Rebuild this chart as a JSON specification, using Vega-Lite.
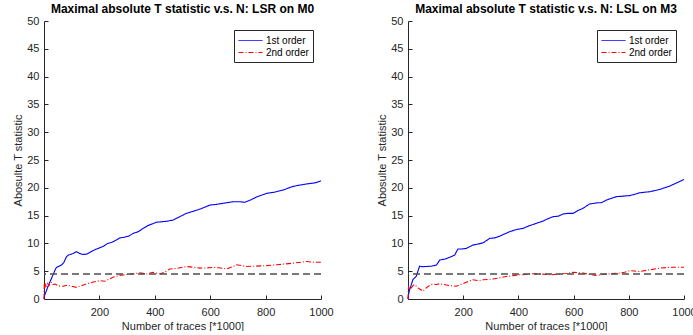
{
  "$schema": "https://vega.github.io/schema/vega-lite/v6.json",
  "background": "white",
  "padding": {"left": 12, "top": 3, "right": 0, "bottom": 0},
  "spacing": 42,
  "datasets": {
    "L": [
      {"x":0,"y":0,"s":"1st order"},{"x":3,"y":0.8,"s":"1st order"},{"x":8,"y":1.4,"s":"1st order"},{"x":14,"y":2.2,"s":"1st order"},{"x":20,"y":2.9,"s":"1st order"},{"x":27,"y":3.7,"s":"1st order"},{"x":33,"y":4.4,"s":"1st order"},{"x":40,"y":5.2,"s":"1st order"},{"x":45,"y":5.7,"s":"1st order"},{"x":55,"y":5.9,"s":"1st order"},{"x":63,"y":6.1,"s":"1st order"},{"x":72,"y":6.6,"s":"1st order"},{"x":81,"y":7.6,"s":"1st order"},{"x":88,"y":7.9,"s":"1st order"},{"x":95,"y":8.0,"s":"1st order"},{"x":105,"y":8.2,"s":"1st order"},{"x":117,"y":8.5,"s":"1st order"},{"x":128,"y":8.2,"s":"1st order"},{"x":141,"y":8.0,"s":"1st order"},{"x":155,"y":8.1,"s":"1st order"},{"x":170,"y":8.5,"s":"1st order"},{"x":185,"y":8.9,"s":"1st order"},{"x":201,"y":9.2,"s":"1st order"},{"x":215,"y":9.5,"s":"1st order"},{"x":230,"y":10.0,"s":"1st order"},{"x":245,"y":10.2,"s":"1st order"},{"x":261,"y":10.6,"s":"1st order"},{"x":275,"y":11.0,"s":"1st order"},{"x":290,"y":11.1,"s":"1st order"},{"x":305,"y":11.3,"s":"1st order"},{"x":322,"y":11.8,"s":"1st order"},{"x":340,"y":12.1,"s":"1st order"},{"x":358,"y":12.7,"s":"1st order"},{"x":375,"y":13.2,"s":"1st order"},{"x":390,"y":13.5,"s":"1st order"},{"x":406,"y":13.8,"s":"1st order"},{"x":425,"y":13.9,"s":"1st order"},{"x":445,"y":14.0,"s":"1st order"},{"x":466,"y":14.2,"s":"1st order"},{"x":490,"y":14.8,"s":"1st order"},{"x":514,"y":15.4,"s":"1st order"},{"x":540,"y":15.8,"s":"1st order"},{"x":565,"y":16.2,"s":"1st order"},{"x":599,"y":16.9,"s":"1st order"},{"x":620,"y":17.0,"s":"1st order"},{"x":645,"y":17.2,"s":"1st order"},{"x":683,"y":17.5,"s":"1st order"},{"x":705,"y":17.5,"s":"1st order"},{"x":725,"y":17.4,"s":"1st order"},{"x":745,"y":17.8,"s":"1st order"},{"x":770,"y":18.4,"s":"1st order"},{"x":804,"y":19.0,"s":"1st order"},{"x":830,"y":19.2,"s":"1st order"},{"x":864,"y":19.6,"s":"1st order"},{"x":895,"y":20.2,"s":"1st order"},{"x":924,"y":20.5,"s":"1st order"},{"x":950,"y":20.7,"s":"1st order"},{"x":980,"y":20.9,"s":"1st order"},{"x":1000,"y":21.25,"s":"1st order"},
      {"x":0,"y":0,"s":"2nd order"},{"x":1,"y":2.9,"s":"2nd order"},{"x":3,"y":2.0,"s":"2nd order"},{"x":6,"y":2.6,"s":"2nd order"},{"x":9,"y":2.2,"s":"2nd order"},{"x":13,"y":2.8,"s":"2nd order"},{"x":18,"y":2.4,"s":"2nd order"},{"x":22,"y":2.9,"s":"2nd order"},{"x":27,"y":3.0,"s":"2nd order"},{"x":32,"y":2.6,"s":"2nd order"},{"x":40,"y":2.7,"s":"2nd order"},{"x":51,"y":2.4,"s":"2nd order"},{"x":60,"y":2.3,"s":"2nd order"},{"x":69,"y":2.3,"s":"2nd order"},{"x":85,"y":2.5,"s":"2nd order"},{"x":100,"y":2.3,"s":"2nd order"},{"x":117,"y":2.1,"s":"2nd order"},{"x":135,"y":2.4,"s":"2nd order"},{"x":153,"y":2.7,"s":"2nd order"},{"x":175,"y":3.0,"s":"2nd order"},{"x":201,"y":3.3,"s":"2nd order"},{"x":220,"y":3.2,"s":"2nd order"},{"x":249,"y":3.9,"s":"2nd order"},{"x":270,"y":4.2,"s":"2nd order"},{"x":298,"y":4.4,"s":"2nd order"},{"x":320,"y":4.5,"s":"2nd order"},{"x":346,"y":4.7,"s":"2nd order"},{"x":370,"y":4.5,"s":"2nd order"},{"x":394,"y":4.8,"s":"2nd order"},{"x":418,"y":4.5,"s":"2nd order"},{"x":435,"y":4.8,"s":"2nd order"},{"x":454,"y":5.4,"s":"2nd order"},{"x":480,"y":5.5,"s":"2nd order"},{"x":514,"y":5.85,"s":"2nd order"},{"x":540,"y":5.7,"s":"2nd order"},{"x":563,"y":5.55,"s":"2nd order"},{"x":590,"y":5.6,"s":"2nd order"},{"x":623,"y":5.7,"s":"2nd order"},{"x":659,"y":5.4,"s":"2nd order"},{"x":680,"y":5.8,"s":"2nd order"},{"x":695,"y":6.15,"s":"2nd order"},{"x":715,"y":6.0,"s":"2nd order"},{"x":731,"y":5.85,"s":"2nd order"},{"x":760,"y":5.9,"s":"2nd order"},{"x":804,"y":6.0,"s":"2nd order"},{"x":840,"y":6.15,"s":"2nd order"},{"x":870,"y":6.3,"s":"2nd order"},{"x":900,"y":6.45,"s":"2nd order"},{"x":948,"y":6.75,"s":"2nd order"},{"x":975,"y":6.6,"s":"2nd order"},{"x":1000,"y":6.6,"s":"2nd order"}
    ],
    "R": [
      {"x":0,"y":0,"s":"1st order"},{"x":3,"y":1.1,"s":"1st order"},{"x":7,"y":1.8,"s":"1st order"},{"x":12,"y":2.6,"s":"1st order"},{"x":18,"y":3.5,"s":"1st order"},{"x":24,"y":3.8,"s":"1st order"},{"x":30,"y":4.1,"s":"1st order"},{"x":36,"y":5.0,"s":"1st order"},{"x":42,"y":5.9,"s":"1st order"},{"x":55,"y":5.8,"s":"1st order"},{"x":66,"y":5.85,"s":"1st order"},{"x":85,"y":5.9,"s":"1st order"},{"x":103,"y":6.1,"s":"1st order"},{"x":115,"y":7.0,"s":"1st order"},{"x":135,"y":7.2,"s":"1st order"},{"x":151,"y":7.5,"s":"1st order"},{"x":169,"y":7.9,"s":"1st order"},{"x":181,"y":9.0,"s":"1st order"},{"x":195,"y":9.0,"s":"1st order"},{"x":211,"y":9.1,"s":"1st order"},{"x":235,"y":9.7,"s":"1st order"},{"x":255,"y":9.9,"s":"1st order"},{"x":272,"y":10.1,"s":"1st order"},{"x":296,"y":10.9,"s":"1st order"},{"x":315,"y":11.0,"s":"1st order"},{"x":332,"y":11.3,"s":"1st order"},{"x":350,"y":11.7,"s":"1st order"},{"x":368,"y":12.1,"s":"1st order"},{"x":393,"y":12.5,"s":"1st order"},{"x":417,"y":12.7,"s":"1st order"},{"x":435,"y":13.1,"s":"1st order"},{"x":453,"y":13.4,"s":"1st order"},{"x":470,"y":13.7,"s":"1st order"},{"x":489,"y":14.0,"s":"1st order"},{"x":505,"y":14.4,"s":"1st order"},{"x":525,"y":14.8,"s":"1st order"},{"x":545,"y":14.9,"s":"1st order"},{"x":562,"y":15.3,"s":"1st order"},{"x":580,"y":15.4,"s":"1st order"},{"x":598,"y":15.4,"s":"1st order"},{"x":615,"y":15.9,"s":"1st order"},{"x":634,"y":16.3,"s":"1st order"},{"x":658,"y":17.1,"s":"1st order"},{"x":688,"y":17.3,"s":"1st order"},{"x":700,"y":17.3,"s":"1st order"},{"x":719,"y":17.8,"s":"1st order"},{"x":737,"y":18.1,"s":"1st order"},{"x":755,"y":18.4,"s":"1st order"},{"x":780,"y":18.5,"s":"1st order"},{"x":803,"y":18.6,"s":"1st order"},{"x":820,"y":18.8,"s":"1st order"},{"x":839,"y":19.1,"s":"1st order"},{"x":858,"y":19.2,"s":"1st order"},{"x":876,"y":19.3,"s":"1st order"},{"x":894,"y":19.5,"s":"1st order"},{"x":912,"y":19.7,"s":"1st order"},{"x":930,"y":20.0,"s":"1st order"},{"x":948,"y":20.3,"s":"1st order"},{"x":970,"y":20.8,"s":"1st order"},{"x":1000,"y":21.5,"s":"1st order"},
      {"x":0,"y":0,"s":"2nd order"},{"x":2,"y":2.3,"s":"2nd order"},{"x":5,"y":1.7,"s":"2nd order"},{"x":8,"y":2.2,"s":"2nd order"},{"x":12,"y":2.0,"s":"2nd order"},{"x":18,"y":2.4,"s":"2nd order"},{"x":24,"y":2.6,"s":"2nd order"},{"x":30,"y":2.3,"s":"2nd order"},{"x":36,"y":2.0,"s":"2nd order"},{"x":45,"y":1.7,"s":"2nd order"},{"x":54,"y":1.4,"s":"2nd order"},{"x":60,"y":1.7,"s":"2nd order"},{"x":66,"y":2.0,"s":"2nd order"},{"x":80,"y":2.5,"s":"2nd order"},{"x":91,"y":2.7,"s":"2nd order"},{"x":103,"y":2.6,"s":"2nd order"},{"x":115,"y":2.75,"s":"2nd order"},{"x":130,"y":2.6,"s":"2nd order"},{"x":151,"y":2.4,"s":"2nd order"},{"x":175,"y":2.3,"s":"2nd order"},{"x":190,"y":2.6,"s":"2nd order"},{"x":211,"y":3.0,"s":"2nd order"},{"x":235,"y":3.45,"s":"2nd order"},{"x":255,"y":3.3,"s":"2nd order"},{"x":272,"y":3.45,"s":"2nd order"},{"x":308,"y":3.6,"s":"2nd order"},{"x":330,"y":3.8,"s":"2nd order"},{"x":356,"y":4.05,"s":"2nd order"},{"x":380,"y":4.2,"s":"2nd order"},{"x":405,"y":4.35,"s":"2nd order"},{"x":430,"y":4.4,"s":"2nd order"},{"x":453,"y":4.55,"s":"2nd order"},{"x":480,"y":4.5,"s":"2nd order"},{"x":514,"y":4.35,"s":"2nd order"},{"x":550,"y":4.5,"s":"2nd order"},{"x":575,"y":4.6,"s":"2nd order"},{"x":598,"y":4.8,"s":"2nd order"},{"x":634,"y":4.65,"s":"2nd order"},{"x":660,"y":4.4,"s":"2nd order"},{"x":681,"y":4.25,"s":"2nd order"},{"x":705,"y":4.4,"s":"2nd order"},{"x":731,"y":4.55,"s":"2nd order"},{"x":767,"y":4.65,"s":"2nd order"},{"x":785,"y":4.8,"s":"2nd order"},{"x":803,"y":5.1,"s":"2nd order"},{"x":839,"y":4.95,"s":"2nd order"},{"x":876,"y":5.25,"s":"2nd order"},{"x":912,"y":5.55,"s":"2nd order"},{"x":948,"y":5.7,"s":"2nd order"},{"x":975,"y":5.7,"s":"2nd order"},{"x":1000,"y":5.7,"s":"2nd order"}
    ],
    "thr": [{"t": 4.5}]
  },
  "config": {
    "font": "Liberation Sans",
    "view": {"stroke": null},
    "axis": {
      "grid": false,
      "domainColor": "#262626",
      "tickColor": "#262626",
      "labelColor": "#262626",
      "titleColor": "#262626",
      "labelFont": "Liberation Sans",
      "titleFont": "Liberation Sans",
      "labelFontSize": 11,
      "titleFontSize": 11,
      "titleFontWeight": "normal",
      "tickSize": -4,
      "labelFlush": false,
      "labelOverlap": false
    },
    "title": {"font": "Liberation Sans", "fontSize": 12, "fontWeight": "bold", "color": "#000000", "offset": -1, "anchor": "middle"},
    "legend": {
      "orient": "none",
      "legendY": 9,
      "title": null,
      "strokeColor": "#262626",
      "fillColor": "white",
      "padding": 4,
      "labelFont": "Liberation Sans",
      "labelFontSize": 10,
      "labelColor": "#000000",
      "symbolType": "M-1,0H3",
      "symbolSize": 144,
      "symbolStrokeWidth": 1,
      "rowPadding": 0,
      "labelOffset": 15
    }
  },
  "resolve": {"legend": {"color": "independent", "strokeDash": "independent"}},
  "hconcat": [
    {
      "width": 277,
      "height": 278,
      "title": "Maximal absolute T statistic v.s. N: LSR on M0",
      "layer": [
        {
          "data": {"name": "L"},
          "mark": {"type": "line", "strokeWidth": 1.1},
          "encoding": {
            "x": {"field": "x", "type": "quantitative", "scale": {"domain": [0, 1000], "nice": false}, "axis": {"values": [200, 400, 600, 800, 1000], "format": "d", "title": "Number of traces [*1000]", "labelPadding": 11, "titlePadding": 3, "labelOverlap": false}},
            "y": {"field": "y", "type": "quantitative", "scale": {"domain": [0, 50], "nice": false}, "axis": {"values": [0,5,10,15,20,25,30,35,40,45,50], "format": "d", "title": "Abosulte T statistic", "labelPadding": 9, "titlePadding": 3, "labelOverlap": false}},
            "color": {"field": "s", "type": "nominal", "scale": {"domain": ["1st order", "2nd order"], "range": ["#0000ff", "#ff0000"]}, "legend": {"legendX": 190, "legendY": 9}},
            "strokeDash": {"field": "s", "type": "nominal", "scale": {"domain": ["1st order", "2nd order"], "range": [[1, 0], [5, 2, 1, 2]]}, "legend": {"legendX": 190, "legendY": 9}}
          }
        },
        {
          "data": {"name": "thr"},
          "mark": {"type": "rule", "color": "#4d4d4d", "strokeDash": [7, 4], "strokeWidth": 1.3},
          "encoding": {"y": {"field": "t", "type": "quantitative", "axis": {"values": [0,5,10,15,20,25,30,35,40,45,50], "format": "d", "title": "Abosulte T statistic", "labelPadding": 9, "titlePadding": 3, "labelOverlap": false}}}
        }
      ]
    },
    {
      "width": 276,
      "height": 278,
      "title": "Maximal absolute T statistic v.s. N: LSL on M3",
      "layer": [
        {
          "data": {"name": "R"},
          "mark": {"type": "line", "strokeWidth": 1.1},
          "encoding": {
            "x": {"field": "x", "type": "quantitative", "scale": {"domain": [0, 1000], "nice": false}, "axis": {"values": [200, 400, 600, 800, 1000], "format": "d", "title": "Number of traces [*1000]", "labelPadding": 11, "titlePadding": 3, "labelOverlap": false}},
            "y": {"field": "y", "type": "quantitative", "scale": {"domain": [0, 50], "nice": false}, "axis": {"values": [0,5,10,15,20,25,30,35,40,45,50], "format": "d", "title": "Abosulte T statistic", "labelPadding": 9, "titlePadding": 3, "labelOverlap": false}},
            "color": {"field": "s", "type": "nominal", "scale": {"domain": ["1st order", "2nd order"], "range": ["#0000ff", "#ff0000"]}, "legend": {"legendX": 189, "legendY": 9}},
            "strokeDash": {"field": "s", "type": "nominal", "scale": {"domain": ["1st order", "2nd order"], "range": [[1, 0], [5, 2, 1, 2]]}, "legend": {"legendX": 189, "legendY": 9}}
          }
        },
        {
          "data": {"name": "thr"},
          "mark": {"type": "rule", "color": "#4d4d4d", "strokeDash": [7, 4], "strokeWidth": 1.3},
          "encoding": {"y": {"field": "t", "type": "quantitative", "axis": {"values": [0,5,10,15,20,25,30,35,40,45,50], "format": "d", "title": "Abosulte T statistic", "labelPadding": 9, "titlePadding": 3, "labelOverlap": false}}}
        }
      ]
    }
  ]
}
